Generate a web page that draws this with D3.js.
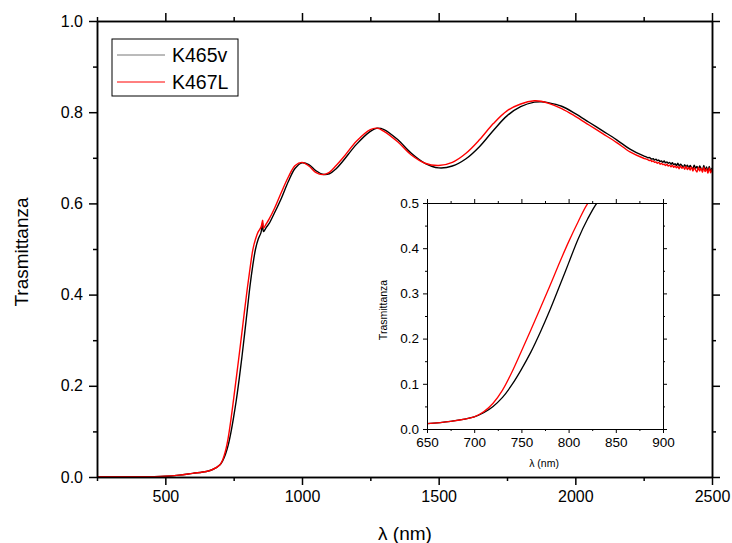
<html>
<head>
<meta charset="utf-8">
<script src="https://cdn.jsdelivr.net/npm/d3@7"></script>
<style>
  body { margin: 0; background: #fff; }
  svg { font-family: "Liberation Sans", Arial, sans-serif; }
</style>
</head>
<body>
<script>
// wavelengths (nm) shared by both spectra
var lambda = [250, 300, 350, 400, 450, 500, 550, 600, 650, 675, 700, 710, 720, 730, 740, 750,
  760, 770, 780, 790, 800, 810, 820, 830, 840, 850, 856, 859, 870, 880, 900, 925, 950, 975,
  1000, 1025, 1050, 1075, 1100, 1125, 1150, 1200, 1250, 1275, 1300, 1350, 1400, 1450, 1500,
  1550, 1600, 1650, 1700, 1750, 1800, 1850, 1875, 1900, 1950, 2000, 2050, 2100, 2150, 2200,
  2250, 2255, 2260, 2265, 2270, 2275, 2280, 2285, 2290, 2295, 2300, 2305, 2310, 2315, 2320,
  2325, 2330, 2335, 2340, 2345, 2350, 2355, 2360, 2365, 2370, 2375, 2380, 2385, 2390, 2395,
  2400, 2405, 2410, 2415, 2420, 2425, 2430, 2435, 2440, 2445, 2450, 2455, 2460, 2465, 2470,
  2475, 2480, 2485, 2490, 2495, 2500];

var k465v = [0.0005, 0.0005, 0.0005, 0.0006, 0.0008, 0.0015, 0.004, 0.008, 0.012, 0.017, 0.027,
  0.036, 0.05, 0.070, 0.098, 0.132, 0.170, 0.214, 0.262, 0.314, 0.367, 0.420, 0.464, 0.50, 0.522,
  0.536, 0.557, 0.538, 0.548, 0.556, 0.58, 0.612, 0.648, 0.677, 0.689, 0.685, 0.672, 0.664, 0.665,
  0.676, 0.693, 0.73, 0.758, 0.765, 0.762, 0.74, 0.71, 0.688, 0.678, 0.682, 0.698, 0.725, 0.76,
  0.792, 0.812, 0.822, 0.823, 0.821, 0.813, 0.797, 0.778, 0.759, 0.74, 0.719, 0.704,
  0.703, 0.702, 0.700, 0.701, 0.699, 0.697, 0.698, 0.695, 0.697, 0.694,
  0.695, 0.692, 0.693, 0.690, 0.693, 0.689, 0.691, 0.688, 0.690, 0.686,
  0.689, 0.685, 0.687, 0.683, 0.688, 0.682, 0.686, 0.683, 0.679, 0.685,
  0.680, 0.684, 0.677, 0.683, 0.679, 0.676, 0.684, 0.677, 0.681, 0.674,
  0.682, 0.676, 0.673, 0.683, 0.672, 0.680, 0.670, 0.681, 0.671, 0.678];

var k467L = [0.0005, 0.0005, 0.0005, 0.0006, 0.0008, 0.0015, 0.004, 0.008, 0.012, 0.017, 0.027,
  0.038, 0.057, 0.086, 0.126, 0.172, 0.219, 0.267, 0.316, 0.366, 0.414, 0.458, 0.498, 0.522, 0.538,
  0.548, 0.563, 0.546, 0.556, 0.566, 0.59, 0.625, 0.658, 0.683, 0.69, 0.682, 0.668, 0.663, 0.668,
  0.683, 0.70, 0.737, 0.762, 0.765, 0.758, 0.735, 0.706, 0.688, 0.683, 0.69, 0.71, 0.74, 0.775,
  0.803, 0.818, 0.825, 0.824, 0.82, 0.808, 0.791, 0.772, 0.753, 0.734, 0.713, 0.699,
  0.698, 0.697, 0.696, 0.694, 0.695, 0.692, 0.693, 0.690, 0.691, 0.688,
  0.690, 0.686, 0.688, 0.685, 0.686, 0.683, 0.686, 0.682, 0.684, 0.680,
  0.684, 0.679, 0.682, 0.678, 0.681, 0.676, 0.682, 0.677, 0.680, 0.675,
  0.681, 0.674, 0.679, 0.673, 0.680, 0.671, 0.678, 0.673, 0.669, 0.679,
  0.671, 0.677, 0.668, 0.679, 0.670, 0.676, 0.666, 0.678, 0.667, 0.675];

var seriesNames = ["K465v", "K467L"];
var seriesColors = ["#000000", "#ff0000"];

var mainXTicks = [500, 1000, 1500, 2000, 2500];
var mainXMinor = [250, 750, 1250, 1750, 2250];
var mainYTicks = [0, 0.2, 0.4, 0.6, 0.8, 1.0];
var mainYMinor = [0.1, 0.3, 0.5, 0.7, 0.9];
var insetXTicks = [650, 700, 750, 800, 850, 900];
var insetXMinor = [675, 725, 775, 825, 875];
var insetYTicks = [0, 0.1, 0.2, 0.3, 0.4, 0.5];
var insetYMinor = [0.05, 0.15, 0.25, 0.35, 0.45];

var width = 732, height = 543;

var svg = d3.select("body").append("svg")
    .attr("width", width)
    .attr("height", height);

var series = [k465v, k467L].map(function(vals, i) {
  return { name: seriesNames[i], color: seriesColors[i],
           values: lambda.map(function(l, j) { return [l, vals[j]]; }) };
});

// four framed axes, ticks pointing out, labels only bottom/left
function drawAxes(g, xs, ys, xt, yt, xMinor, yMinor, major, minor, pad, fontSize, lw) {
  var bottom = ys.range()[0], top = ys.range()[1];
  var left = xs.range()[0], right = xs.range()[1];
  var parts = [
    [d3.axisBottom(xs).tickValues(xt).tickSize(major).tickPadding(pad).tickFormat(d3.format("d")), "translate(0," + bottom + ")"],
    [d3.axisBottom(xs).tickValues(xMinor).tickSize(minor).tickFormat(""), "translate(0," + bottom + ")"],
    [d3.axisTop(xs).tickValues(xt).tickSize(major).tickFormat(""), "translate(0," + top + ")"],
    [d3.axisTop(xs).tickValues(xMinor).tickSize(minor).tickFormat(""), "translate(0," + top + ")"],
    [d3.axisLeft(ys).tickValues(yt).tickSize(major).tickPadding(pad).tickFormat(d3.format(".1f")), "translate(" + left + ",0)"],
    [d3.axisLeft(ys).tickValues(yMinor).tickSize(minor).tickFormat(""), "translate(" + left + ",0)"],
    [d3.axisRight(ys).tickValues(yt).tickSize(major).tickFormat(""), "translate(" + right + ",0)"],
    [d3.axisRight(ys).tickValues(yMinor).tickSize(minor).tickFormat(""), "translate(" + right + ",0)"]
  ];
  parts.forEach(function(p) {
    var a = g.append("g").attr("transform", p[1]).call(p[0].tickSizeOuter(0));
    a.selectAll(".domain").attr("stroke", "#000").attr("stroke-width", lw);
    a.selectAll(".tick line").attr("stroke", "#000").attr("stroke-width", lw);
    a.selectAll("text").attr("font-size", fontSize).attr("fill", "#000")
      .attr("font-family", "Liberation Sans, Arial, sans-serif");
  });
}

// ---------- main plot ----------
var x = d3.scaleLinear().domain([250, 2500]).range([97, 712]);
var y = d3.scaleLinear().domain([0, 1]).range([477, 21]);

var line = d3.line()
    .x(function(d) { return x(d[0]); })
    .y(function(d) { return y(d[1]); })
    .curve(d3.curveCatmullRom.alpha(0.5));

svg.append("g").selectAll("path")
  .data(series)
  .enter().append("path")
    .attr("d", function(d) { return line(d.values); })
    .attr("fill", "none")
    .attr("stroke", function(d) { return d.color; })
    .attr("stroke-width", 1.4);

drawAxes(svg.append("g"), x, y, mainXTicks, mainYTicks, mainXMinor, mainYMinor, 8, 4, 6, 16, 1.5);

svg.append("text")
  .attr("x", 405).attr("y", 540)
  .attr("text-anchor", "middle")
  .attr("font-size", 19)
  .text("λ (nm)");

svg.append("text")
  .attr("transform", "translate(28,252) rotate(-90)")
  .attr("text-anchor", "middle")
  .attr("font-size", 19)
  .text("Trasmittanza");

// legend
var legend = svg.append("g");
legend.append("rect")
  .attr("x", 112).attr("y", 39).attr("width", 126).attr("height", 57)
  .attr("fill", "#fff").attr("stroke", "#000").attr("stroke-width", 1);
legend.selectAll("g.item")
  .data(series)
  .enter().append("g").attr("class", "item")
  .each(function(d, i) {
    var gy = 55 + i * 27;
    d3.select(this).append("line")
      .attr("x1", 117).attr("x2", 165).attr("y1", gy).attr("y2", gy)
      .attr("stroke", i === 0 ? "#777" : d.color).attr("stroke-width", 1);
    d3.select(this).append("text")
      .attr("x", 172).attr("y", gy + 7)
      .attr("font-size", 19.5)
      .text(d.name);
  });

// ---------- inset ----------
var xi = d3.scaleLinear().domain([650, 900]).range([427, 663]);
var yi = d3.scaleLinear().domain([0, 0.5]).range([429, 203]);

var inset = svg.append("g");
inset.append("rect")
  .attr("x", 427).attr("y", 203).attr("width", 236).attr("height", 226)
  .attr("fill", "#fff");

svg.append("clipPath").attr("id", "insetClip")
  .append("rect").attr("x", 427).attr("y", 203).attr("width", 236).attr("height", 226);

var lineInset = d3.line()
    .x(function(d) { return xi(d[0]); })
    .y(function(d) { return yi(d[1]); })
    .curve(d3.curveCatmullRom.alpha(0.5));

inset.append("g").attr("clip-path", "url(#insetClip)")
  .selectAll("path")
  .data(series)
  .enter().append("path")
    .attr("d", function(d) {
      return lineInset(d.values.filter(function(p) { return p[0] >= 600 && p[0] <= 900; }));
    })
    .attr("fill", "none")
    .attr("stroke", function(d) { return d.color; })
    .attr("stroke-width", 1.3);

drawAxes(inset, xi, yi, insetXTicks, insetYTicks, insetXMinor, insetYMinor, 4, 2, 4, 13.5, 1);

inset.append("text")
  .attr("x", 544).attr("y", 467)
  .attr("text-anchor", "middle")
  .attr("font-size", 10.5)
  .text("λ (nm)");

inset.append("text")
  .attr("transform", "translate(387,310) rotate(-90)")
  .attr("text-anchor", "middle")
  .attr("font-size", 10.5)
  .text("Trasmittanza");
</script>
</body>
</html>
